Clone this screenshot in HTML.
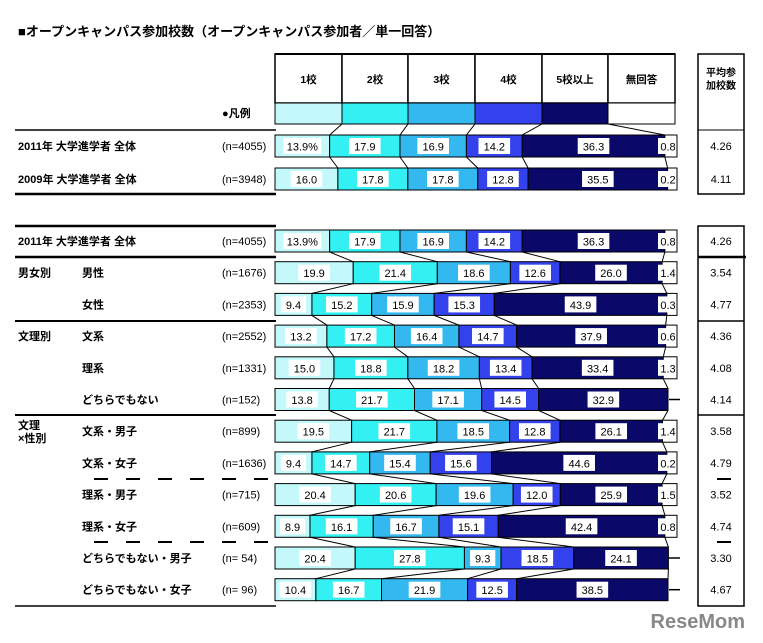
<!DOCTYPE html>
<html><head><meta charset="utf-8"><style>
body{margin:0;background:#fff;}
svg text{font-family:"Liberation Sans","Noto Sans CJK JP",sans-serif;}
</style></head><body>
<svg id="chart" width="763" height="638" xmlns="http://www.w3.org/2000/svg">
<text x="18" y="36" font-size="13" font-weight="bold">■オープンキャンパス参加校数（オープンキャンパス参加者／単一回答）</text>
<g id="g"></g>
</svg>
<script>
const categories=["1校","2校","3校","4校","5校以上","無回答"];
const colors=["#c4f9fc","#33f1f3","#33b8f0","#3442ee","#0a0868","#ffffff"];
const rowLabels1=["2011年 大学進学者 全体","2009年 大学進学者 全体"];
const rowN1=["(n=4055)","(n=3948)"];
const values1=[[13.9,17.9,16.9,14.2,36.3,0.8],[16.0,17.8,17.8,12.8,35.5,0.2]];
const avg1=["4.26","4.11"];
const groupLabels2=["","男女別","","文理別","","","文理\n×性別","","","","",""];
const rowLabels2=["2011年 大学進学者 全体","男性","女性","文系","理系","どちらでもない","文系・男子","文系・女子","理系・男子","理系・女子","どちらでもない・男子","どちらでもない・女子"];
const rowN2=["(n=4055)","(n=1676)","(n=2353)","(n=2552)","(n=1331)","(n=152)","(n=899)","(n=1636)","(n=715)","(n=609)","(n=  54)","(n=  96)"];
const values2=[[13.9,17.9,16.9,14.2,36.3,0.8],[19.9,21.4,18.6,12.6,26.0,1.4],[9.4,15.2,15.9,15.3,43.9,0.3],[13.2,17.2,16.4,14.7,37.9,0.6],[15.0,18.8,18.2,13.4,33.4,1.3],[13.8,21.7,17.1,14.5,32.9,0],[19.5,21.7,18.5,12.8,26.1,1.4],[9.4,14.7,15.4,15.6,44.6,0.2],[20.4,20.6,19.6,12.0,25.9,1.5],[8.9,16.1,16.7,15.1,42.4,0.8],[20.4,27.8,9.3,18.5,24.1,0],[10.4,16.7,21.9,12.5,38.5,0]];
const avg2=["4.26","3.54","4.77","4.36","4.08","4.14","3.58","4.79","3.52","4.74","3.30","4.67"];

const X0=275, XEND=677, SC=3.93, BH=22;
const xs=v=>X0+v*SC;
const g=document.getElementById('g');
const NS="http://www.w3.org/2000/svg";
function mk(t,a,txt){const e=document.createElementNS(NS,t);for(const k in a)e.setAttribute(k,a[k]);if(txt!==undefined)e.textContent=txt;g.appendChild(e);return e;}
function line(x1,y1,x2,y2,w,dash){const e=mk('line',{x1,y1,x2,y2,stroke:'#000','stroke-width':w||1});if(dash)e.setAttribute('stroke-dasharray',dash);

return e;}
function txt(x,y,s,anchor,size,weight){const e=mk('text',{x,y,'font-size':size||11,'text-anchor':anchor||'start','font-weight':weight||'normal'},s);

return e;}

const hdrX=[275,342,408,475,542,608,675];
for(let i=0;i<6;i++){
  const c=mk('rect',{x:hdrX[i],y:54,width:hdrX[i+1]-hdrX[i],height:49,fill:'#fff',stroke:'#000','stroke-width':1.5});
  
  
  txt((hdrX[i]+hdrX[i+1])/2,83,categories[i],'middle',10.5,'bold');
  const l=mk('rect',{x:hdrX[i],y:103,width:hdrX[i+1]-hdrX[i],height:21,fill:colors[i],stroke:'#000','stroke-width':1});
  
  
}
line(275,54,675,54,2);
txt(222,117,'●凡例','start',11,'bold');
const ab1=mk('rect',{x:698,y:54,width:46,height:140,fill:'none',stroke:'#000','stroke-width':1.5});


txt(721,76,'平均参','middle',10,'bold');txt(721,89,'加校数','middle',10,'bold');
line(698,130,744,130,1);
line(15,130,276,130,1.5);line(15,194,276,194,2.5);

function bounds(v){const b=[];let c=0;for(let i=0;i<6;i++){b.push(xs(c));c+=v[i];}b.push(v[5]>0?XEND:xs(c));return b;}
function drawBar(v,y,pct){
  const b=bounds(v);
  for(let i=0;i<6;i++){
    const w=Math.max(0,b[i+1]-b[i]);
    if(w<=0)continue;
    const r=mk('rect',{x:b[i],y:y,width:w,height:BH,fill:colors[i],stroke:'#000','stroke-width':1});
    
    
  }
  for(let i=0;i<5;i++){
    const s=(pct&&i===0)?v[i].toFixed(1)+'%':v[i].toFixed(1);
    const cx=(b[i]+b[i+1])/2;
    const tw=s.length*6.4+6;
    const bg=mk('rect',{x:cx-tw/2,y:y+3,width:tw,height:16,fill:'#fff'});
    
    
    txt(cx,y+15.5,s,'middle',11);
  }
  if(v[5]>0){mk('rect',{x:658,y:y+3,width:18,height:16,fill:'#fff'});txt(668,y+15.5,v[5].toFixed(1),'middle',11);}
  else line(669,y+11,680,y+11,1.5);
  return b;
}
function connect(bA,yA,bB,yB){for(let i=1;i<6;i++)line(bA[i],yA,bB[i],yB,1);}

const y1=[135,168];let prev=hdrX.slice(0,6).concat([677]);let py=124;
for(let r=0;r<2;r++){
  const b=drawBar(values1[r],y1[r],r===0);
  connect(prev,py,b,y1[r]);prev=b;py=y1[r]+BH;
  txt(18,y1[r]+15,rowLabels1[r],'start',11,'bold');
  txt(222,y1[r]+15,rowN1[r],'start',11);
  txt(721,y1[r]+15,avg1[r],'middle',11);
}

const Y2=230,STEP=31.7;prev=null;
for(let r=0;r<12;r++){
  const y=Y2+r*STEP;
  const b=drawBar(values2[r],y,r===0);
  if(prev)connect(prev,py,b,y);prev=b;py=y+BH;
  if(groupLabels2[r]){const parts=groupLabels2[r].split('\n');parts.forEach((p,k)=>txt(18,y+15-(parts.length>1?6:0)+k*13,p,'start',11,'bold'));}
  txt(r===0?18:82,y+15,rowLabels2[r],'start',11,'bold');
  txt(222,y+15,rowN2[r],'start',11);
  txt(721,y+15,avg2[r],'middle',11);
}
const ab2=mk('rect',{x:698,y:226,width:46,height:380,fill:'none',stroke:'#000','stroke-width':1.5});


line(15,226,276,226,2.5);line(15,257,276,257,2.5);line(698,257,746,257,2.5);
line(15,321,276,321,2);line(698,321,744,321,1.5);
line(15,415,276,415,2);line(698,415,744,415,1.5);
line(94,479,276,479,2,'14,18');line(94,542,276,542,2,'14,18');
line(717,479,731,479,2);line(717,542,731,542,2);
line(15,606,276,606,1.5);
const logo=mk('text',{x:745,y:628,'font-size':20,'font-weight':'bold',fill:'#888','text-anchor':'end'},'ReseMom');


</script>
</body></html>
